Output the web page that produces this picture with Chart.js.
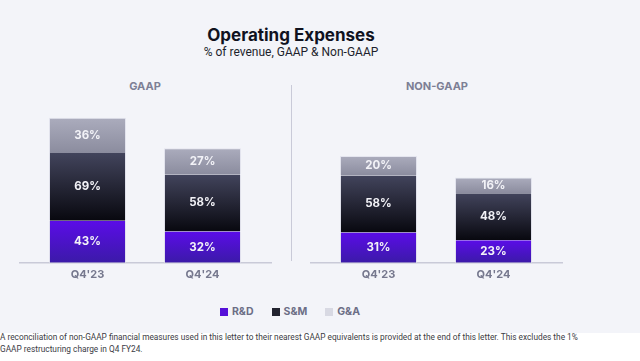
<!DOCTYPE html>
<html>
<head>
<meta charset="utf-8">
<script src="https://cdn.jsdelivr.net/npm/chart.js@4.4.1/dist/chart.umd.min.js"></script>
<style>
  html, body { margin: 0; padding: 0; background: #ffffff; }
  body { width: 640px; height: 361px; position: relative; overflow: hidden; font-family: Inter, "Noto Sans", sans-serif; }
  #panel { position: absolute; left: 0; top: 0; width: 640px; height: 333px; background: #f3f4f9; }
  .title { position: absolute; left: 0; width: 582px; text-align: center; top: 25px; font-size: 17px; font-weight: 700; color: #10121f; }
  .subtitle { position: absolute; left: 0; width: 582px; text-align: center; top: 45px; font-size: 12px; color: #1d1f2c; font-family: Roboto, sans-serif; }
  .head { position: absolute; top: 79px; font-size: 11px; font-weight: 700; color: #7d7f95; text-align: center; width: 120px; }
  #divider { position: absolute; left: 291px; top: 85px; width: 1px; height: 176px; background: #c9cad8; }
  .wrap { position: absolute; top: 100px; width: 291px; height: 190px; }
  #legend { position: absolute; top: 305px; left: 0; width: 580px; text-align: center; font-size: 10.5px; font-weight: 700; color: #6c6e86; }
  #legend span { margin: 0 9px; }
  #legend i { display: inline-block; width: 8px; height: 8px; margin-right: 4px; vertical-align: -1px; }
  #note { position: absolute; left: 0; top: 331px; font-family: Roboto, sans-serif; font-size: 8.3px; line-height: 12px; color: #3a3b44; }
</style>
</head>
<body>
<div id="panel"></div>
<div class="title">Operating Expenses</div>
<div class="subtitle">% of revenue, GAAP &amp; Non-GAAP</div>
<div class="head" style="left:85px">GAAP</div>
<div class="head" style="left:377px">NON-GAAP</div>
<div id="divider"></div>
<div class="wrap" style="left:0"><canvas id="gaapChart"></canvas></div>
<div class="wrap" style="left:291px"><canvas id="nonGaapChart"></canvas></div>
<div id="legend"></div>
<div id="note">A reconciliation of non-GAAP financial measures used in this letter to their nearest GAAP equivalents is provided at the end of this letter. This excludes the 1%<br>GAAP restructuring charge in Q4 FY24.</div>

<script>
const quarters = ["Q4'23", "Q4'24"];
const seriesNames = ["R&D", "S&M", "G&A"];

// % of revenue
const gaapRD = [43, 32];
const gaapSM = [69, 58];
const gaapGA = [36, 27];

const nonGaapRD = [31, 23];
const nonGaapSM = [58, 48];
const nonGaapGA = [20, 16];

// top / bottom colour of each segment
const gradColors = [
  ["#5b0ce8", "#3b1aa8"],
  ["#42445c", "#08080f"],
  ["#abacbd", "#8b8c9e"],
];
const legendColors = ["#5510d8", "#22232f", "#d8d9e3"];

function segmentGradient(c) {
  const chart = c.chart;
  if (!chart.chartArea || !chart.scales.y) return gradColors[c.datasetIndex][1];
  let start = 0;
  for (let i = 0; i < c.datasetIndex; i++) {
    start += chart.data.datasets[i].data[c.dataIndex];
  }
  const end = start + chart.data.datasets[c.datasetIndex].data[c.dataIndex];
  const y = chart.scales.y;
  const g = chart.ctx.createLinearGradient(0, y.getPixelForValue(end), 0, y.getPixelForValue(start));
  g.addColorStop(0, gradColors[c.datasetIndex][0]);
  g.addColorStop(1, gradColors[c.datasetIndex][1]);
  return g;
}

// baseline under bars, slightly wider than the chart area
const baseline = {
  id: "baseline",
  beforeDatasetsDraw(chart) {
    const ctx = chart.ctx;
    const y = chart.scales.y.getPixelForValue(0);
    ctx.save();
    ctx.strokeStyle = "#c9cad8";
    ctx.lineWidth = 1.5;
    ctx.beginPath();
    ctx.moveTo(chart.chartArea.left - 11, y);
    ctx.lineTo(chart.chartArea.right + 12, y);
    ctx.stroke();
    ctx.restore();
  },
};

// value labels inside segments
const segLabels = {
  id: "segLabels",
  afterDatasetsDraw(chart) {
    const ctx = chart.ctx;
    ctx.save();
    ctx.font = "700 11.5px Inter, sans-serif";
    ctx.fillStyle = "#f2f2f7";
    ctx.textAlign = "center";
    ctx.textBaseline = "middle";
    chart.data.datasets.forEach((ds, i) => {
      chart.getDatasetMeta(i).data.forEach((bar, j) => {
        ctx.fillText(ds.data[j] + "%", bar.x, (bar.y + bar.base) / 2);
      });
    });
    ctx.restore();
  },
};

function makeChart(id, rd, sm, ga) {
  const values = [rd, sm, ga];
  const datasets = values.map((v, i) => ({
    label: seriesNames[i],
    data: v,
    backgroundColor: segmentGradient,
    borderColor: "#e4e5ef",
    borderWidth: i === 2 ? { top: 1, left: 1, right: 1, bottom: 0 } : { left: 1, right: 1, top: 0, bottom: 0 },
    borderSkipped: false,
    barPercentage: 0.67,
    categoryPercentage: 1,
  }));
  return new Chart(document.getElementById(id), {
    type: "bar",
    data: { labels: quarters, datasets: datasets },
    options: {
      responsive: true,
      maintainAspectRatio: false,
      animation: false,
      layout: { padding: { left: 30, right: 31, top: 6, bottom: 4 } },
      plugins: { legend: { display: false }, tooltip: { enabled: false } },
      scales: {
        x: {
          stacked: true,
          grid: { display: false, drawTicks: false },
          border: { display: false },
          ticks: { color: "#76788e", padding: 5, font: { family: "Inter", size: 11, weight: "700" } },
        },
        y: {
          stacked: true,
          display: false,
          min: 0,
          max: 160,
        },
      },
    },
    plugins: [baseline, segLabels],
  });
}

const gaapChart = makeChart("gaapChart", gaapRD, gaapSM, gaapGA);
const nonGaapChart = makeChart("nonGaapChart", nonGaapRD, nonGaapSM, nonGaapGA);

document.getElementById("legend").innerHTML = seriesNames
  .map((n, i) => '<span><i style="background:' + legendColors[i] + '"></i>' + n.replace("&", "&amp;") + "</span>")
  .join("");
</script>
</body>
</html>
